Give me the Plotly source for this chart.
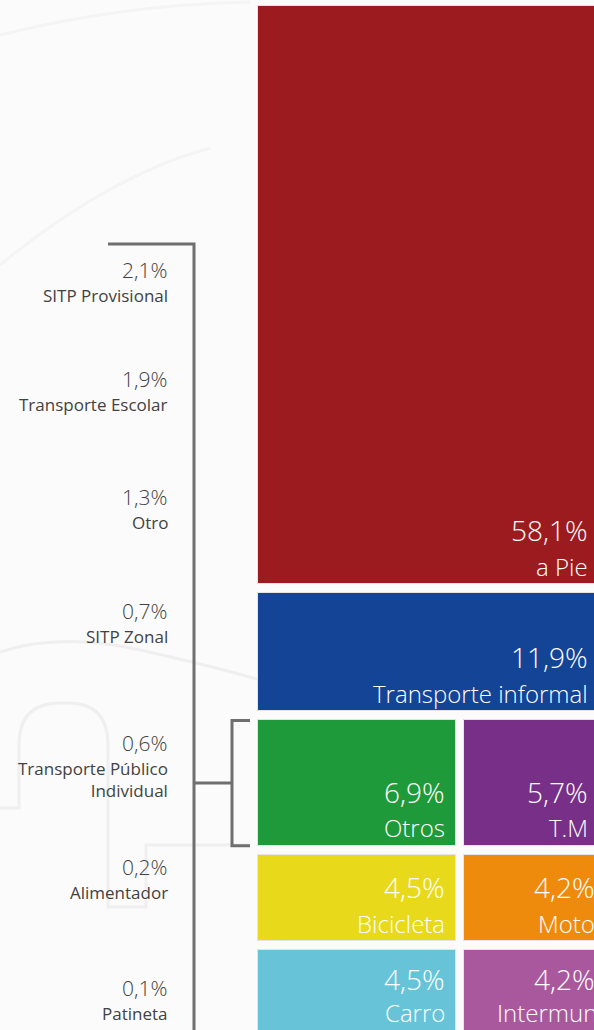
import plotly.graph_objects as go

# Modal split of trips: main tiles
MODOS = ["a Pie", "Transporte informal", "Otros", "T.M",
         "Bicicleta", "Moto", "Carro", "Intermunicipal"]
PARTICIPACION = [58.1, 11.9, 6.9, 5.7, 4.5, 4.2, 4.5, 4.2]
COLORES = ["#9b1b1e", "#134496", "#1f9a3a", "#782f87",
           "#e8d91a", "#ee8a0c", "#67c4d8", "#a9589e"]
TILES_POR_FILA = [1, 1, 2, 2, 2]

# Breakdown of the "Otros" tile
OTROS_MODOS = ["SITP Provisional", "Transporte Escolar", "Otro", "SITP Zonal",
               "Transporte Público<br>Individual", "Alimentador", "Patineta"]
OTROS_PART = [2.1, 1.9, 1.3, 0.7, 0.6, 0.2, 0.1]

# ---- layout constants (pixels / axis units) ----
W, H = 594, 1030
PX_PER_UNIT = 9.95
TOP_PX = 6
GAP = 0.9                      # gap between rows, in percentage units
X_LEFT, X_MID_L, X_MID_R, X_END = 258, 456, 464, 760
LIST_Y_PX = [270, 379, 497, 611, 743, 867, 988]
FONT = "Open Sans"
TEXT_GRAY = "#424242"
LINE_GRAY = "#6f6f6f"


def pct(v):
    return f"{v:.1f}".replace(".", ",") + "%"


y_top = -TOP_PX / PX_PER_UNIT
y_bottom = y_top + H / PX_PER_UNIT


def unit_to_paper(u):
    return 1 - (u - y_top) * PX_PER_UNIT / H


def px_to_paper(p):
    return 1 - p / H


fig = go.Figure()

# ---- tiles: row height = sum of the row's shares ----
annotations = []
idx = 0
base = 0.0
row_bounds = []
n_rows = len(TILES_POR_FILA)
for r, n in enumerate(TILES_POR_FILA):
    vals = PARTICIPACION[idx:idx + n]
    h = sum(vals)
    row_bounds.append((base, base + h))
    if n == 1:
        cols = [(X_LEFT, X_END, 590)]
    else:
        cols = [(X_LEFT, X_MID_L, 447), (X_MID_R, X_END, 590 if idx == 2 else 597)]
    # labels sit near the bottom of each tile; the last row runs off the page,
    # so its labels are placed from the tile's top edge instead
    if r == n_rows - 1:
        ref_y, pct_shift, name_shift = unit_to_paper(base), -29, -62
    else:
        ref_y, pct_shift, name_shift = unit_to_paper(base + h), 54, 18
    for k, (x0, x1, xt) in enumerate(cols):
        i = idx + k
        fig.add_trace(go.Bar(
            x=[(x0 + x1) / 2], width=[x1 - x0], base=[base], y=[h],
            marker=dict(color=COLORES[i], line=dict(color="#e4e4e4", width=1)),
            hoverinfo="skip", showlegend=False,
        ))
        annotations.append(dict(
            x=xt / W, y=ref_y, xref="paper", yref="paper", xanchor="right",
            yanchor="middle", yshift=pct_shift, text=pct(PARTICIPACION[i]),
            showarrow=False,
            font=dict(family=FONT, size=28, color="white", weight=300)))
        name_anchor = dict(x=xt / W, xanchor="right")
        if MODOS[i] == "Intermunicipal":
            name_anchor = dict(x=495 / W, xanchor="left")
        annotations.append(dict(
            **name_anchor, y=ref_y, xref="paper", yref="paper", yanchor="middle",
            yshift=name_shift, text=MODOS[i], showarrow=False,
            font=dict(family=FONT, size=24, color="white", weight=300)))
    idx += n
    base += h + GAP

# ---- breakdown list on the left ----
for v, name, ypx in zip(OTROS_PART, OTROS_MODOS, LIST_Y_PX):
    annotations.append(dict(
        x=169 / W, y=px_to_paper(ypx), xref="paper", yref="paper", xanchor="right",
        yanchor="middle", text=pct(v), showarrow=False,
        font=dict(family=FONT, size=21, color=TEXT_GRAY, weight=300)))
    annotations.append(dict(
        x=170 / W, y=px_to_paper(ypx + 12), xref="paper", yref="paper",
        xanchor="right", yanchor="top", align="right", text=name, showarrow=False,
        font=dict(family=FONT, size=17, color=TEXT_GRAY, weight=400)))

shapes = []

# faint background outlines
ghost = dict(type="path", xref="x", yref="paper", layer="below",
             line=dict(color="#efefef", width=3))
py = px_to_paper

shapes.append(dict(ghost, path=(
    f"M 0,{py(808)} L 19,{py(808)} L 19,{py(745)} Q 19,{py(703)} 60,{py(703)} "
    f"L 68,{py(703)} Q 108,{py(703)} 108,{py(745)} L 108,{py(907)} L 146,{py(907)} "
    f"L 146,{py(845)} L 250,{py(845)}")))
shapes.append(dict(ghost, path=(
    f"M 0,{py(652)} Q 60,{py(632)} 140,{py(650)} T 260,{py(680)}")))
shapes.append(dict(ghost, line=dict(color="#f4f4f4", width=3), path=(
    f"M 0,{py(265)} Q 110,{py(175)} 210,{py(148)}")))
shapes.append(dict(ghost, line=dict(color="#f4f4f4", width=3), path=(
    f"M 0,{py(35)} Q 120,{py(5)} 250,{py(2)}")))

# bracket: main line down the list, small bracket around the "Otros" row
r3_top, r3_bot = row_bounds[2]
r3_mid = (r3_top + r3_bot) / 2
bracket = dict(line=dict(color=LINE_GRAY, width=3))
shapes.append(dict(type="path", xref="x", yref="paper",
                   path=f"M 108,{py(244)} L 194,{py(244)} L 194,{py(1040)}", **bracket))
shapes.append(dict(type="line", xref="x", yref="y", x0=194, x1=232,
                   y0=r3_mid, y1=r3_mid, **bracket))
shapes.append(dict(type="path", xref="x", yref="y",
                   path=f"M 250,{r3_top} L 232,{r3_top} L 232,{r3_bot} L 250,{r3_bot}",
                   **bracket))

fig.update_layout(
    width=W, height=H,
    margin=dict(l=0, r=0, t=0, b=0),
    paper_bgcolor="#fbfbfb", plot_bgcolor="rgba(0,0,0,0)",
    barmode="overlay", bargap=0,
    xaxis=dict(range=[0, W], visible=False, fixedrange=True),
    yaxis=dict(range=[y_bottom, y_top], visible=False, fixedrange=True),
    annotations=annotations, shapes=shapes,
    font=dict(family=FONT),
)

fig.write_html("out.html")
